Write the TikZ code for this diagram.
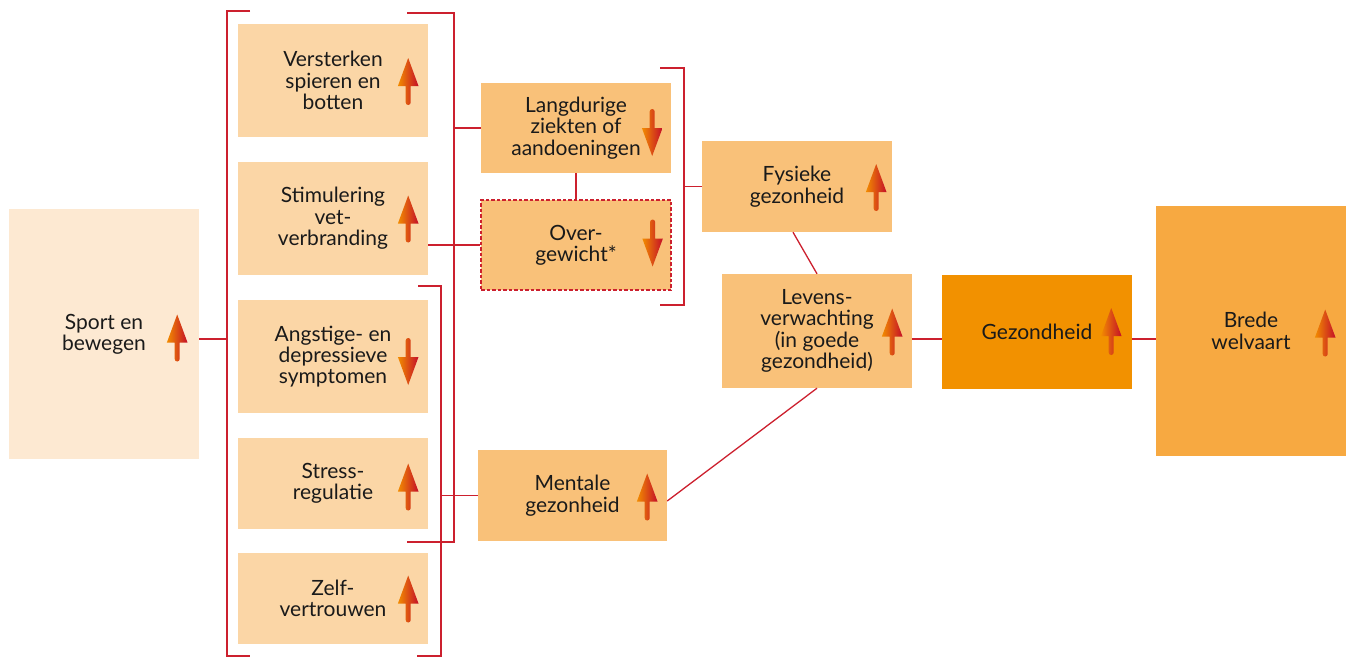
\documentclass[tikz,border=0pt]{standalone}
\usepackage{fontspec}
\setmainfont{Lato}
\usetikzlibrary{calc}

\definecolor{linkred}{RGB}{204,32,46}
\definecolor{arrorange}{RGB}{242,140,0}
\definecolor{arrred}{RGB}{196,14,40}
\definecolor{sportfill}{RGB}{253,233,210}
\definecolor{effectfill}{RGB}{251,214,166}
\definecolor{healthfill}{RGB}{249,193,121}
\definecolor{gezfill}{RGB}{242,145,0}
\definecolor{welvfill}{RGB}{247,169,65}
\definecolor{inktext}{RGB}{26,26,26}

\tikzset{
  box/.style={rectangle, inner sep=0pt, align=center, text=inktext,
    font=\fontsize{21}{21.4}\selectfont},
  tallbox/.style={box, minimum width=190pt, minimum height=113pt},
  flatbox/.style={box, minimum width=190pt, minimum height=91pt},
  link/.style={draw=linkred, line width=1.3pt},
  pics/uparr/.style={code={
    \shade[left color=arrorange, right color=arrred]
      (0,-23.5) -- (10.3,4.5) -- (2.5,4.5) -- (2.5,21)
      arc[start angle=0, end angle=180, radius=2.5]
      -- (-2.5,4.5) -- (-10.3,4.5) -- cycle;}},
  pics/downarr/.style={code={\pic[yscale=-1] {uparr};}},
}

\begin{document}
\begin{tikzpicture}[x=1pt, y=-1pt]
\useasboundingbox (0,0) rectangle (1351,657);

% starting point
\node[box, fill=sportfill, minimum width=190pt, minimum height=250pt]
  (sport) at (104,334) {Sport en\\bewegen};

% direct effects
\node[tallbox, fill=effectfill] (vs) at (333,80.5) {Versterken\\spieren en\\botten};
\node[tallbox, fill=effectfill] (st) at (333,218.5) {Stimulering\\vet-\\verbranding};
\node[tallbox, fill=effectfill] (an) at (333,356.5) {Angstige- en\\depressieve\\symptomen};
\node[flatbox, fill=effectfill] (sr) at (333,483.5) {Stress-\\regulatie};
\node[flatbox, fill=effectfill] (zv) at (333,598.5) {Zelf-\\vertrouwen};

% intermediate outcomes
\node[box, fill=healthfill, minimum width=190pt, minimum height=90pt]
  (ld) at (576,128) {Langdurige\\ziekten of\\aandoeningen};
\node[box, fill=healthfill, minimum width=190pt, minimum height=90pt,
  draw=linkred, line width=1.2pt, dash pattern=on 3.5pt off 2pt]
  (og) at (576,245) {Over-\\gewicht*};
\node[flatbox, fill=healthfill, minimum width=189pt] (mg) at (572.5,495.5) {Mentale\\gezonheid};
\node[flatbox, fill=healthfill] (fy) at (797,186.5) {Fysieke\\gezonheid};
\node[box, fill=healthfill, minimum width=190pt, minimum height=114pt]
  (lv) at (817,331) {Levens-\\verwachting\\(in goede\\gezondheid)};

% final outcomes
\node[box, fill=gezfill, minimum width=190pt, minimum height=114pt]
  (gz) at (1037,332) {Gezondheid};
\node[box, fill=welvfill, minimum width=190pt, minimum height=250pt]
  (bw) at (1251,331) {Brede\\welvaart};

% trend arrows
\pic at ($(sport.east)+(-22,4)$) {uparr};
\pic at ($(vs.east)+(-20,1)$) {uparr};
\pic at ($(st.east)+(-20,0.5)$) {uparr};
\pic at ($(an.east)+(-20,5)$) {downarr};
\pic at ($(sr.east)+(-20,3.5)$) {uparr};
\pic at ($(zv.east)+(-20,0.5)$) {uparr};
\pic at ($(ld.east)+(-19,4.5)$) {downarr};
\pic at ($(og.east)+(-19,-2)$) {downarr};
\pic at ($(mg.east)+(-20,1.5)$) {uparr};
\pic at ($(fy.east)+(-16,1)$) {uparr};
\pic at ($(lv.east)+(-20,1)$) {uparr};
\pic at ($(gz.east)+(-21,-0.5)$) {uparr};
\pic at ($(bw.east)+(-21,2)$) {uparr};

% bracket corners and junctions
\coordinate (hl) at (0,339);
\coordinate (b1t) at (250,11);
\coordinate (b1b) at (250,656);
\coordinate (b1j) at (227,339);
\coordinate (b2t) at (407,13);
\coordinate (b2b) at (407,542);
\coordinate (b2j) at (454,128);
\coordinate (b3t) at (418,286);
\coordinate (b3b) at (417,656);
\coordinate (b3j) at (441,495.5);
\coordinate (b4t) at (660,68);
\coordinate (b4b) at (660,305);
\coordinate (b4j) at (684,186.5);

% brackets
\draw[link] (b1t) -- (b1j |- b1t) -- (b1j |- b1b) -- (b1b);
\draw[link] (b2t) -- (b2j |- b2t) -- (b2j |- b2b) -- (b2b);
\draw[link] (b3t) -- (b3j |- b3t) -- (b3j |- b3b) -- (b3b);
\draw[link] (b4t) -- (b4j |- b4t) -- (b4j |- b4b) -- (b4b);

% connectors
\draw[link] (sport.east |- hl) -- (b1j);
\draw[link] (b2j) -- (ld.west);
\draw[link] (og.west -| st.east) -- (og.west);
\draw[link] (ld.south) -- (og.north);
\draw[link] (b3j) -- (mg.west);
\draw[link] (b4j) -- (fy.west);
\draw[link] ([xshift=-4pt]fy.south) -- (lv.north);
\draw[link] (lv.south) -- ([yshift=-5.5pt]mg.east);
\draw[link] (lv.east |- hl) -- (gz.west |- hl);
\draw[link] (gz.east |- hl) -- (bw.west |- hl);
\end{tikzpicture}
\end{document}
